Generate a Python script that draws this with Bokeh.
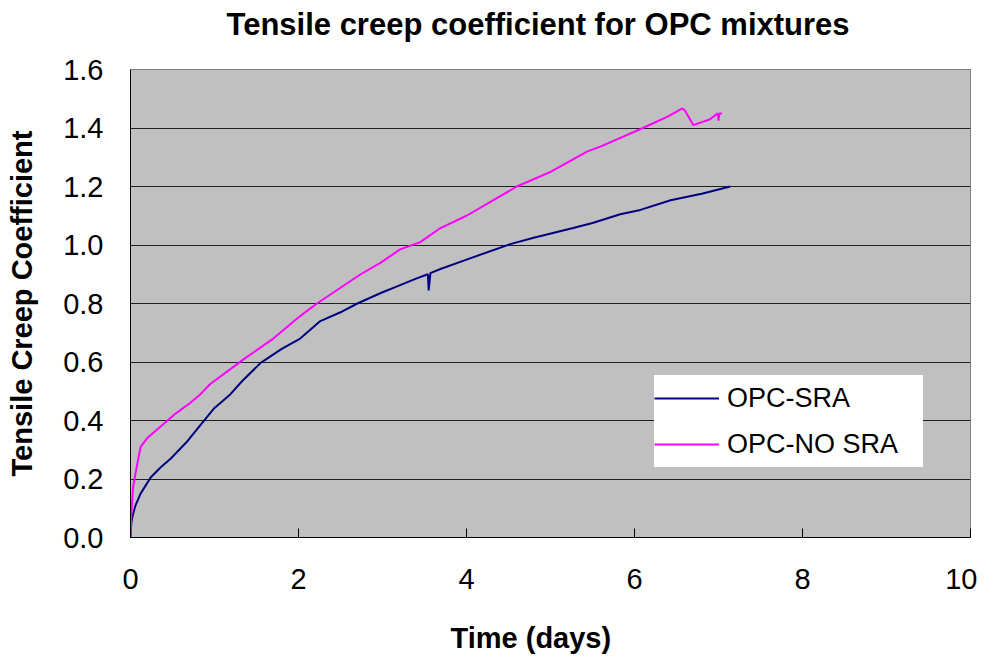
from bokeh.plotting import figure
from bokeh.models import Range1d, FixedTicker, Legend, LegendItem, NumeralTickFormatter, Title
from bokeh.embed import file_html
from bokeh.resources import INLINE

# OPC-SRA (navy)
sra_t = [0, 0.01, 0.03, 0.06, 0.12, 0.24, 0.36, 0.48, 0.68, 0.89, 0.99, 1.07, 1.19, 1.33,
         1.55, 1.8, 2.02, 2.26, 2.5, 2.7, 2.98, 3.21, 3.4, 3.54, 3.55, 3.57, 3.69, 4.0,
         4.52, 4.8, 5.27, 5.5, 5.83, 6.07, 6.43, 6.8, 7.14]
sra_v = [0, 0.05, 0.08, 0.11, 0.15, 0.205, 0.24, 0.27, 0.33, 0.405, 0.44, 0.46, 0.49, 0.535,
         0.597, 0.645, 0.68, 0.74, 0.77, 0.80, 0.836, 0.863, 0.885, 0.90, 0.845, 0.904, 0.918, 0.95,
         1.003, 1.025, 1.058, 1.075, 1.105, 1.12, 1.153, 1.175, 1.20]

# OPC-NO SRA (magenta)
nosra_t = [0, 0.01, 0.03, 0.06, 0.08, 0.12, 0.2, 0.4, 0.52, 0.71, 0.833, 0.95, 1.35, 1.7,
           2.02, 2.22, 2.74, 2.98, 3.21, 3.45, 3.69, 4.0, 4.6, 5.0, 5.44, 5.6, 6.1, 6.4,
           6.57, 6.6, 6.7, 6.9, 6.99, 7.0, 7.01, 7.04]
nosra_v = [0, 0.08, 0.17, 0.22, 0.25, 0.31, 0.34, 0.39, 0.42, 0.46, 0.49, 0.525, 0.61, 0.68,
           0.757, 0.80, 0.90, 0.94, 0.985, 1.01, 1.058, 1.10, 1.20, 1.25, 1.32, 1.337, 1.40, 1.44,
           1.467, 1.46, 1.41, 1.43, 1.45, 1.425, 1.45, 1.45]

x_ticks = [0, 2, 4, 6, 8, 10]
y_ticks = [0, 0.2, 0.4, 0.6, 0.8, 1.0, 1.2, 1.4, 1.6]

title_text = "Tensile creep coefficient for OPC mixtures"
x_label = "Time (days)"
y_label = "Tensile Creep Coefficient"

FONT = "Liberation Sans"

p = figure(width=977, height=655, output_backend="svg", toolbar_location=None,
           x_range=Range1d(0, 10), y_range=Range1d(0, 1.6),
           min_border_left=130, min_border_right=7, min_border_top=68, min_border_bottom=118)

p.background_fill_color = "#C0C0C0"
p.border_fill_color = "white"
p.outline_line_color = "#808080"

# main title (outermost) with a thin spacer title between it and the plot frame
p.title = Title(text=title_text, text_font=FONT, text_font_size="31px", text_font_style="bold",
                text_color="black", align="left", offset=96, standoff=8)
p.add_layout(Title(text=" ", text_font_size="1px", standoff=21), "above")

p.xgrid.visible = False
p.ygrid.grid_line_color = "#202020"
p.ygrid.grid_line_width = 1
p.ygrid.ticker = FixedTicker(ticks=y_ticks)

p.xaxis.ticker = FixedTicker(ticks=x_ticks)
p.yaxis.ticker = FixedTicker(ticks=y_ticks)
p.yaxis.formatter = NumeralTickFormatter(format="0.0")

for ax in (p.xaxis[0], p.yaxis[0]):
    ax.axis_line_color = "black"
    ax.axis_line_width = 1
    ax.major_label_text_font = FONT
    ax.major_label_text_font_size = "29px"
    ax.major_label_text_color = "black"
    ax.axis_label_text_font = FONT
    ax.axis_label_text_font_size = "29px"
    ax.axis_label_text_font_style = "bold"
    ax.axis_label_text_color = "black"
    ax.minor_tick_line_color = None

p.yaxis.axis_label = y_label

p.xaxis.major_tick_in = 9
p.xaxis.major_tick_out = 0
p.xaxis.major_tick_line_color = "black"
p.xaxis.major_label_standoff = 31

p.yaxis.major_tick_in = 0
p.yaxis.major_tick_out = 0
p.yaxis.major_label_standoff = 27
p.yaxis.axis_label_standoff = 22

# x-axis title below the tick labels (spacer first, then the label)
p.add_layout(Title(text=" ", text_font_size="1px", standoff=24), "below")
p.add_layout(Title(text=x_label, text_font=FONT, text_font_size="29px", text_font_style="bold",
                   text_color="black", align="left", offset=320, standoff=2), "below")

r1 = p.line(sra_t, sra_v, line_color="#000080", line_width=2)
r2 = p.line(nosra_t, nosra_v, line_color="#FF00FF", line_width=2)

legend = Legend(items=[LegendItem(label="OPC-SRA", renderers=[r1]),
                       LegendItem(label="OPC-NO SRA", renderers=[r2])],
                location=(524, 70))
legend.background_fill_color = "white"
legend.background_fill_alpha = 1.0
legend.border_line_color = None
legend.label_text_font = FONT
legend.label_text_font_size = "27px"
legend.label_text_color = "black"
legend.padding = 0
legend.margin = 0
legend.spacing = 0
legend.glyph_width = 65
legend.glyph_height = 46
legend.label_height = 46
legend.label_standoff = 8
legend.label_width = 196
p.add_layout(legend)

open("out.html", "w").write(file_html(p, INLINE))
